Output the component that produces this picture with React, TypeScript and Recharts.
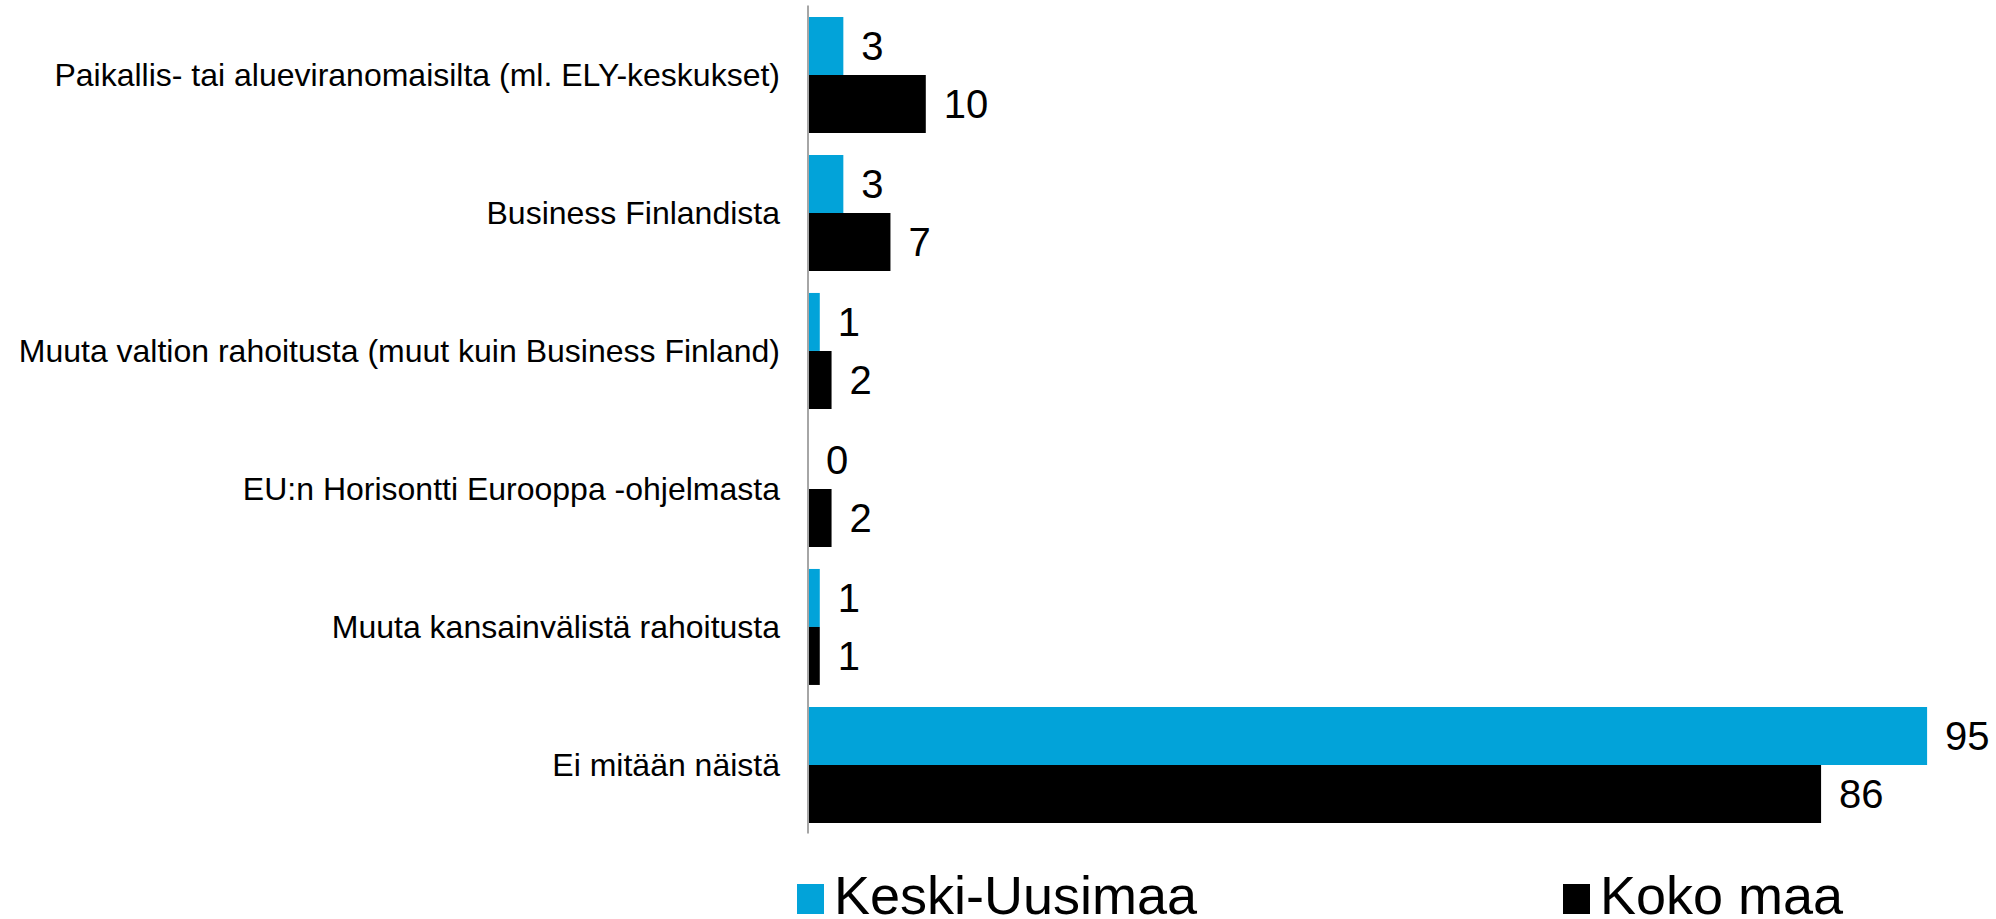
import React from 'react';
import { BarChart, Bar, XAxis, YAxis, LabelList } from 'recharts';

const categories = [
  'Paikallis- tai alueviranomaisilta (ml. ELY-keskukset)',
  'Business Finlandista',
  'Muuta valtion rahoitusta (muut kuin Business Finland)',
  'EU:n Horisontti Eurooppa -ohjelmasta',
  'Muuta kansainvälistä rahoitusta',
  'Ei mitään näistä',
];
const keskiUusimaa = [3, 3, 1, 0, 1, 95];
const kokoMaa = [10, 7, 2, 2, 1, 86];

const seriesNames = ['Keski-Uusimaa', 'Koko maa'];
const seriesColors = ['#02A3D9', '#000000'];

const data = categories.map((name, i) => ({
  name,
  ku: keskiUusimaa[i],
  km: kokoMaa[i],
}));

const FONT = '"Liberation Sans", Arial, sans-serif';

// value label drawn to the right of the bar end
const ValueLabel = (props: any) => {
  const { x, y, width, height, value } = props;
  return (
    <text
      x={Number(x) + Math.max(0, Number(width || 0)) + 18}
      y={Number(y) + Number(height) / 2}
      dominantBaseline="central"
      fontSize={40}
      fontFamily={FONT}
      fill="#000"
    >
      {value}
    </text>
  );
};

const legendLeft = [797, 1563];

export default function App() {
  return (
    <div style={{ position: 'absolute', left: 0, top: 0, width: 1996, height: 919, background: '#fff', overflow: 'hidden' }}>
      <BarChart
        width={1996}
        height={919}
        data={data}
        layout="vertical"
        margin={{ top: 5.5, right: 10, bottom: 85.5, left: 0 }}
        barCategoryGap="8.3%"
        barGap={0}
      >
        <XAxis type="number" domain={[0, 100]} hide />
        <YAxis
          type="category"
          dataKey="name"
          width={808}
          tickLine={false}
          tickSize={0}
          tickMargin={28}
          axisLine={{ stroke: '#A6A6A6', strokeWidth: 2 }}
          tick={{ fontSize: 32, fill: '#000', fontFamily: FONT }}
          interval={0}
        />
        <Bar dataKey="ku" name={seriesNames[0]} fill={seriesColors[0]} minPointSize={0.01} isAnimationActive={false}>
          <LabelList dataKey="ku" content={<ValueLabel />} />
        </Bar>
        <Bar dataKey="km" name={seriesNames[1]} fill={seriesColors[1]} minPointSize={0.01} isAnimationActive={false}>
          <LabelList dataKey="km" content={<ValueLabel />} />
        </Bar>
      </BarChart>
      {/* legend */}
      {seriesNames.map((n, i) => (
        <div key={n}>
          <div
            style={{
              position: 'absolute',
              left: legendLeft[i],
              top: 884,
              width: 27,
              height: 30,
              background: seriesColors[i],
            }}
          />
          <div
            style={{
              position: 'absolute',
              left: legendLeft[i] + 37,
              top: 873,
              fontSize: 54,
              lineHeight: '44px',
              fontFamily: FONT,
              color: '#000',
              whiteSpace: 'nowrap',
            }}
          >
            {n}
          </div>
        </div>
      ))}
    </div>
  );
}
